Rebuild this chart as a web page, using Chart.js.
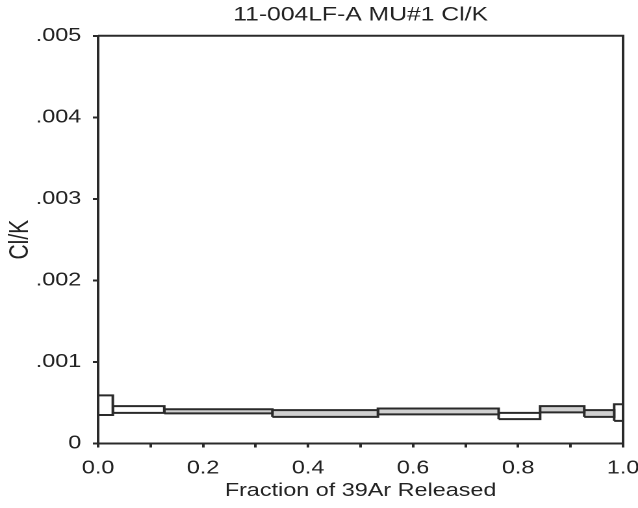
<!DOCTYPE html>
<html>
<head>
<meta charset="utf-8">
<script src="https://cdn.jsdelivr.net/npm/chart.js@4.4.1/dist/chart.umd.min.js"></script>
<style>
  html, body { margin: 0; padding: 0; background: #fff; overflow: hidden; }
  /* the reference picture is stretched sideways, so the chart is too */
  #wrap { position: absolute; left: 0; top: 0; width: 491px; height: 508px;
          transform: scaleX(1.2994); transform-origin: 0 0; }
</style>
</head>
<body>
<div id="wrap"><canvas id="myChart" width="491" height="508"></canvas></div>
<script>
// Step heating data: cumulative fraction of 39Ar released at each step edge
const stepEdges = [0, 0.028, 0.126, 0.332, 0.533, 0.763, 0.842, 0.926, 0.983, 1.0];
// Cl/K box limits per step
const clkLow  = [0.00035, 0.000376, 0.00037, 0.000327, 0.000357, 0.000299, 0.000381, 0.000327, 0.000278];
const clkHigh = [0.00059, 0.000458, 0.00042, 0.000409, 0.00043, 0.000376, 0.000458, 0.000409, 0.000482];
// which steps are shaded grey
const shaded  = [false, false, true, true, true, false, true, true, false];

const xTicks = [0, 0.2, 0.4, 0.6, 0.8, 1.0];
const yTicks = [0, 0.001, 0.002, 0.003, 0.004, 0.005];

const ink = '#222';
const line = '#2a2a2a';
const font = { family: 'Liberation Sans', size: 18 };

// one closed box per step
const datasets = clkLow.map((lo, i) => {
    const hi = clkHigh[i];
    const x0 = stepEdges[i], x1 = stepEdges[i + 1];
    return {
        data: [{x: x0, y: lo}, {x: x1, y: lo}, {x: x1, y: hi}, {x: x0, y: hi}, {x: x0, y: lo}],
        borderColor: line,
        borderWidth: 2,
        backgroundColor: shaded[i] ? '#d0d0d0' : '#ffffff',
        fill: 'shape',
        pointRadius: 0,
        tension: 0
    };
});

// top and right edges of the plot frame
const frame = {
    id: 'frame',
    afterDatasetsDraw(chart) {
        const {ctx, chartArea: a} = chart;
        ctx.save();
        ctx.strokeStyle = line;
        ctx.lineWidth = 2;
        ctx.beginPath();
        ctx.moveTo(a.left, a.top);
        ctx.lineTo(a.right, a.top);
        ctx.lineTo(a.right, a.bottom);
        ctx.stroke();
        ctx.restore();
    }
};

new Chart(document.getElementById('myChart'), {
    type: 'line',
    data: { datasets: datasets },
    plugins: [frame],
    options: {
        responsive: false,
        animation: false,
        devicePixelRatio: 2,
        layout: { padding: 0 },
        plugins: {
            legend: { display: false },
            tooltip: { enabled: false },
            title: {
                display: true,
                text: '11-004LF-A MU#1 Cl/K',
                fullSize: false,
                color: ink,
                font: { family: font.family, size: 19, weight: 'normal' },
                padding: { top: 4, bottom: 9 }
            }
        },
        scales: {
            x: {
                type: 'linear',
                min: 0,
                max: 1,
                afterFit: s => {
                    s.height = 64.5;
                    s.paddingLeft = 0;
                    s.paddingRight = 11.5;
                },
                ticks: {
                    stepSize: 0.1,
                    autoSkip: false,
                    maxRotation: 0,
                    color: ink,
                    font: font,
                    padding: 10,
                    callback: v => {
                        const hit = xTicks.find(t => Math.abs(t - v) < 1e-6);
                        return hit === undefined ? '' : hit.toFixed(1);
                    }
                },
                grid: { drawOnChartArea: false, tickLength: 4, color: line, lineWidth: 2 },
                border: { color: line, width: 2 },
                title: {
                    display: true,
                    text: 'Fraction of 39Ar Released',
                    color: ink,
                    font: font,
                    padding: { top: 0, bottom: 6 }
                }
            },
            y: {
                type: 'linear',
                min: 0,
                max: 0.005,
                afterFit: s => { s.width = 75.5; },
                afterBuildTicks: s => { s.ticks = yTicks.map(v => ({ value: v })); },
                ticks: {
                    color: ink,
                    font: font,
                    padding: 9,
                    callback: v => v === 0 ? '0' : v.toFixed(3).replace(/^0/, '')
                },
                grid: { drawOnChartArea: false, tickLength: 4, color: line, lineWidth: 2 },
                border: { color: line, width: 2 },
                title: {
                    display: true,
                    text: 'Cl/K',
                    color: ink,
                    font: { family: font.family, size: 21 },
                    padding: { top: 3, bottom: 0 }
                }
            }
        }
    }
});
</script>
</body>
</html>
